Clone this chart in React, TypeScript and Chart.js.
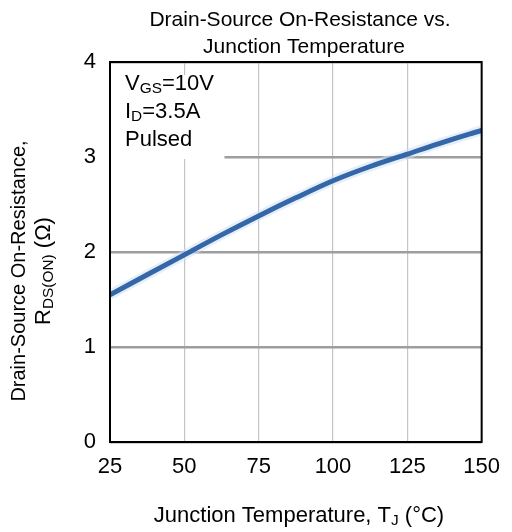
import React, { useEffect, useRef } from "react";
import { Chart, registerables } from "chart.js";
Chart.register(...registerables);

const temperatures = [25, 37.5, 50, 62.5, 75, 87.5, 100, 112.5, 125, 137.5, 150];
const resistance = [1.55, 1.76, 1.97, 2.18, 2.38, 2.57, 2.75, 2.9, 3.03, 3.16, 3.28];
const xTicks = [25, 50, 75, 100, 125, 150];
const yTicks = [0, 1, 2, 3, 4];
const titleLines = ["Drain-Source On-Resistance vs.", "Junction Temperature"];
const noteLines: [string, boolean][][] = [
  [["V", false], ["GS", true], ["=10V", false]],
  [["I", false], ["D", true], ["=3.5A", false]],
  [["Pulsed", false]],
];
const yTitle1: [string, boolean][] = [["Drain-Source On-Resistance,", false]];
const yTitle2: [string, boolean][] = [["R", false], ["DS(ON)", true], [" (Ω)", false]];
const xTitle: [string, boolean][] = [["Junction Temperature, T", false], ["J", true], [" (°C)", false]];

const FONT = "'Liberation Sans', Arial, sans-serif";

function segWidth(ctx: CanvasRenderingContext2D, segs: [string, boolean][], size: number) {
  let w = 0;
  for (const [t, sub] of segs) {
    ctx.font = `${sub ? size * 0.7 : size}px ${FONT}`;
    w += ctx.measureText(t).width;
  }
  return w;
}

function drawSegs(ctx: CanvasRenderingContext2D, segs: [string, boolean][], x: number, y: number, size: number, align: "left" | "center") {
  const total = segWidth(ctx, segs, size);
  let cx = align === "center" ? x - total / 2 : x;
  ctx.textAlign = "left";
  ctx.textBaseline = "middle";
  for (const [t, sub] of segs) {
    ctx.font = `${sub ? size * 0.7 : size}px ${FONT}`;
    ctx.fillText(t, cx, sub ? y + size * 0.22 : y);
    cx += ctx.measureText(t).width;
  }
}

const decorPlugin = {
  id: "decor",
  beforeDatasetsDraw(chart: any) {
    const ctx = chart.ctx as CanvasRenderingContext2D;
    const a = chart.chartArea;
    const xs = chart.scales.x;
    const ys = chart.scales.y;
    ctx.save();
    ctx.fillStyle = "#ffffff";
    const boxRight = xs.getPixelForValue(63.5);
    const boxBottom = ys.getPixelForValue(3) + 2;
    const boxTop = a.top + 13;
    ctx.fillRect(a.left + 1, boxTop, boxRight - a.left - 1, boxBottom - boxTop);
    ctx.fillStyle = "#000";
    const lx = a.left + 15;
    noteLines.forEach((segs, i) => drawSegs(ctx, segs, lx, a.top + 22 + i * 28, 22, "left"));
    ctx.restore();
  },
  afterDraw(chart: any) {
    const ctx = chart.ctx as CanvasRenderingContext2D;
    const a = chart.chartArea;
    ctx.save();
    ctx.strokeStyle = "#000";
    ctx.lineWidth = 2;
    ctx.strokeRect(a.left, a.top, a.right - a.left, a.bottom - a.top);
    ctx.fillStyle = "#000";
    ctx.textAlign = "center";
    ctx.textBaseline = "middle";
    ctx.font = `21px ${FONT}`;
    ctx.fillText(titleLines[0], 300, 20);
    ctx.fillText(titleLines[1], 304, 47);
    drawSegs(ctx, xTitle, 299, 516, 22, "center");
    ctx.translate(19, 271);
    ctx.rotate(-Math.PI / 2);
    drawSegs(ctx, yTitle1, 0, 0, 20, "center");
    ctx.restore();
    ctx.save();
    ctx.fillStyle = "#000";
    ctx.translate(44, 271);
    ctx.rotate(-Math.PI / 2);
    drawSegs(ctx, yTitle2, 0, 0, 22, "center");
    ctx.restore();
  },
};

export default function App() {
  const ref = useRef<HTMLCanvasElement>(null);
  useEffect(() => {
    if (!ref.current) return;
    const pts = temperatures.map((t, i) => ({ x: t, y: resistance[i] }));
    const chart = new Chart(ref.current, {
      type: "line",
      data: {
        datasets: [
          {
            data: pts,
            borderColor: "#3566a8",
            borderWidth: 5,
            pointRadius: 0,
            cubicInterpolationMode: "monotone",
            fill: false,
            order: 0,
          },
          {
            data: pts,
            borderColor: "rgba(205,225,245,0.55)",
            borderWidth: 10,
            pointRadius: 0,
            cubicInterpolationMode: "monotone",
            fill: false,
            order: 1,
          },
        ],
      },
      options: {
        animation: false,
        responsive: false,
        maintainAspectRatio: false,
        layout: { padding: { left: 0, top: 62, right: 20, bottom: 0 } },
        plugins: { legend: { display: false }, tooltip: { enabled: false }, title: { display: false } },
        scales: {
          x: {
            type: "linear",
            min: 25,
            max: 150,
            afterFit: (s: any) => { s.height = 90; },
            afterBuildTicks: (s: any) => { s.ticks = xTicks.map((v) => ({ value: v })); },
            ticks: { color: "#000", font: { size: 22, family: FONT }, padding: 12, maxRotation: 0 },
            grid: { color: "#c4c4c4", lineWidth: 1.2, drawTicks: false },
            border: { display: false },
          },
          y: {
            min: 0,
            max: 4,
            afterFit: (s: any) => { s.width = 110; },
            afterBuildTicks: (s: any) => { s.ticks = yTicks.map((v) => ({ value: v })); },
            ticks: { color: "#000", font: { size: 22, family: FONT }, padding: 14 },
            grid: { color: "#9e9e9e", lineWidth: 2.5, drawTicks: false },
            border: { display: false },
          },
        },
      },
      plugins: [decorPlugin],
    } as any);
    return () => chart.destroy();
  }, []);
  return (
    <div style={{ position: "fixed", left: 0, top: 0, width: 512, height: 532, background: "#fff" }}>
      <canvas ref={ref} width={512} height={532} style={{ width: 512, height: 532 }} />
    </div>
  );
}
